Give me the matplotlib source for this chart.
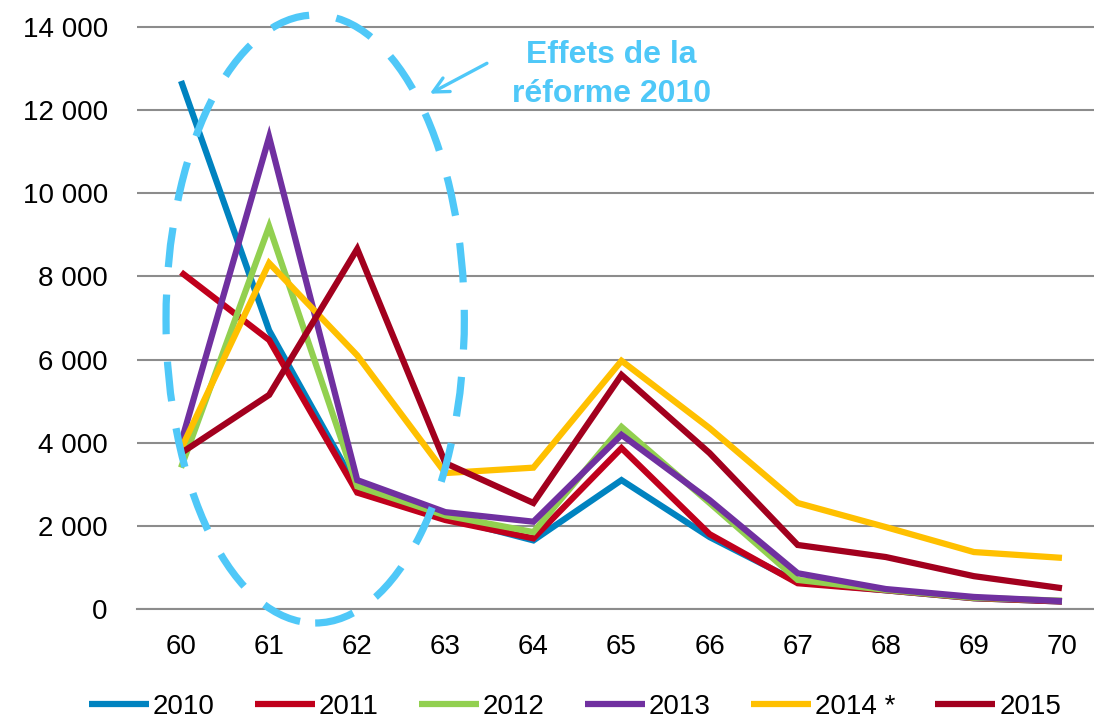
import matplotlib
matplotlib.use("Agg")
import matplotlib.pyplot as plt
from matplotlib.patches import Ellipse
from matplotlib.ticker import FuncFormatter, MultipleLocator

ages = [60, 61, 62, 63, 64, 65, 66, 67, 68, 69, 70]
labels = ["2010", "2011", "2012", "2013", "2014 *", "2015"]
y2010 = [12700, 6700, 2900, 2200, 1650, 3100, 1730, 650, 450, 260, 180]
y2011 = [8100, 6470, 2800, 2140, 1700, 3870, 1800, 620, 450, 260, 180]
y2012 = [3400, 9200, 2950, 2250, 1850, 4380, 2550, 700, 460, 270, 200]
y2013 = [4000, 11350, 3100, 2330, 2100, 4190, 2620, 860, 480, 290, 190]
y2014 = [3850, 8320, 6100, 3270, 3400, 5970, 4350, 2550, 1970, 1370, 1230]
y2015 = [3750, 5150, 8660, 3510, 2550, 5630, 3750, 1540, 1250, 790, 500]
series = [y2010, y2011, y2012, y2013, y2014, y2015]
colors = ["#0083C0", "#C0001C", "#92D050", "#7030A0", "#FFC000", "#A2001E"]
annot_color = "#4FC8F8"

plt.rcParams['font.family'] = ['Liberation Sans', 'DejaVu Sans']

W, H = 1094, 720
fig = plt.figure(figsize=(W / 100, H / 100), dpi=100)

# pixel geometry
x0px, stepx = 182, 88
y0px, pxper = 609, 83.15 / 2000
left_px = 137
ytop = 14100
top_px = y0px - ytop * pxper
ax = fig.add_axes([left_px / W, (H - y0px) / H, (W - left_px) / W, (y0px - top_px) / H])
ax.set_xlim(59.5, 60 + (W - x0px) / stepx)
ax.set_ylim(0, ytop)

for ys, c, lab in zip(series, colors, labels):
    ax.plot(ages, ys, color=c, lw=4.5, label=lab, solid_joinstyle='miter', solid_capstyle='butt')

ax.yaxis.set_major_locator(MultipleLocator(2000))
ax.yaxis.set_major_formatter(FuncFormatter(lambda v, p: f"{int(v):,}".replace(",", " ")))
ax.set_xticks(ages)
ax.set_xticklabels([str(a) for a in ages])
ax.grid(axis='y', color='#8C8C8C', lw=1.5)
ax.set_axisbelow(True)
for s in ['left', 'right', 'top']:
    ax.spines[s].set_visible(False)
ax.spines['bottom'].set_color('#8C8C8C')
ax.spines['bottom'].set_linewidth(1.5)
ax.tick_params(axis='y', length=0, pad=21, labelsize=20)
ax.tick_params(axis='x', length=0, pad=18, labelsize=20)

# dashed ellipse
ell = Ellipse((60 + (316 - x0px) / stepx, (y0px - 319) / pxper), width=298 / stepx,
              height=608 / pxper, fill=False, edgecolor=annot_color, lw=5.2,
              linestyle=(0, (5.5, 3.8)), clip_on=False, zorder=5)
ax.add_patch(ell)

# arrow and text
ax.annotate("", xy=(60 + (428 - x0px) / stepx, (y0px - 95) / pxper),
            xytext=(60 + (490 - x0px) / stepx, (y0px - 62) / pxper),
            arrowprops=dict(arrowstyle="->,head_length=1.1,head_width=0.55", color=annot_color, lw=2.4),
            annotation_clip=False)
tx = 60 + (612 - x0px) / stepx
ax.text(tx, (y0px - 63) / pxper, "Effets de la", color=annot_color, fontsize=23,
        fontweight='bold', ha='center', va='baseline')
ax.text(tx, (y0px - 102) / pxper, "réforme 2010", color=annot_color, fontsize=23,
        fontweight='bold', ha='center', va='baseline')

fig.legend(loc='center', bbox_to_anchor=(575 / W, 13 / H), ncol=6, frameon=False,
           fontsize=20, handlelength=2.15, handletextpad=0.15, columnspacing=1.45)

fig.savefig("out.png", dpi=100)
